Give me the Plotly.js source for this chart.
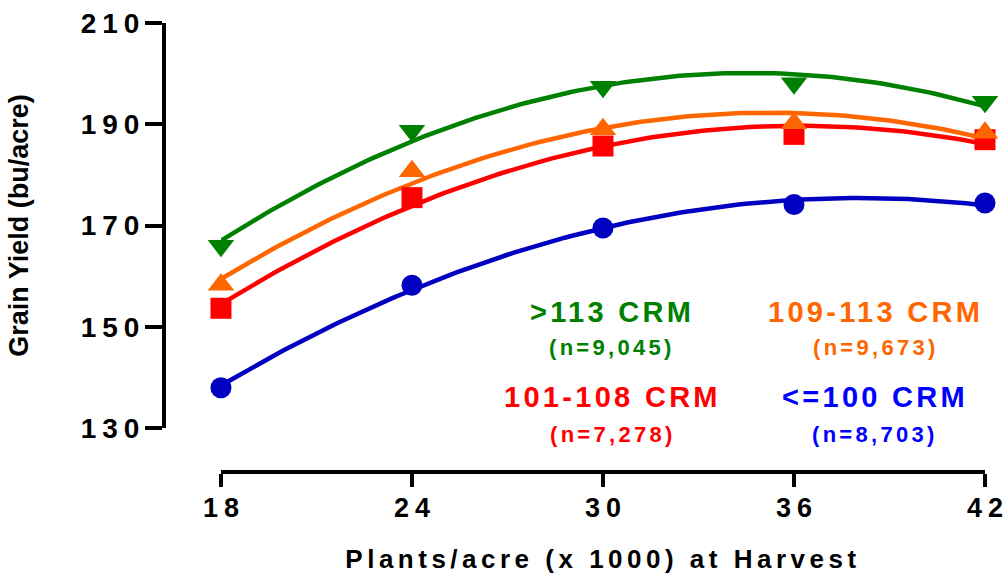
<!DOCTYPE html>
<html><head><meta charset="utf-8">
<script src="https://cdn.plot.ly/plotly-3.0.1.min.js"></script>
<style>
html,body{margin:0;padding:0;background:#fff;}
#chart{width:1008px;height:574px;}
.xtick text, .ytick text {letter-spacing:6px;}
.xtitle {letter-spacing:4.5px;}
.annotation-text {letter-spacing:3.3px;}
</style></head><body><div id="chart"></div>
<script>
// ---- data ----
const plants = [18, 24, 30, 36, 42];               // Plants/acre (x1000) at harvest
const groupNames = ['>113 CRM', '109-113 CRM', '101-108 CRM', '<=100 CRM'];
const groupN = ['(n=9,045)', '(n=9,673)', '(n=7,278)', '(n=8,703)'];
const yieldGT113    = [166.0, 188.7, 197.4, 198.1, 194.45];
const yield109to113 = [158.3, 180.7, 189.0, 190.2, 188.3];
const yield101to108 = [153.65, 175.5, 185.7, 188.0, 186.95];
const yieldLE100    = [137.95, 158.2, 169.5, 174.15, 174.45];
const yTicks = [130, 150, 170, 190, 210];
const xTicks = [18, 24, 30, 36, 42];

// ---- styling ----
const lineColors = ['#008000', '#FF6600', '#FF0000', '#0000C0'];
const textColors = ['#008000', '#FF6600', '#FF0000', '#0000FF'];
const symbols = ['triangle-down', 'triangle-up', 'square', 'circle'];
const symSizes = [23, 23, 21, 21];
const series = [yieldGT113, yield109to113, yield101to108, yieldLE100];

// quadratic least-squares fit (the reference's curves are 2nd-order fits of the means)
function quadFit(xs, ys) {
  let S = [0,0,0,0,0], T = [0,0,0];
  for (let i = 0; i < xs.length; i++) {
    let p = 1;
    for (let k = 0; k < 5; k++) { S[k] += p; if (k < 3) T[k] += p * ys[i]; p *= xs[i]; }
  }
  const A = [[S[0],S[1],S[2],T[0]],[S[1],S[2],S[3],T[1]],[S[2],S[3],S[4],T[2]]];
  for (let c = 0; c < 3; c++) {
    for (let r = c + 1; r < 3; r++) {
      const f = A[r][c] / A[c][c];
      for (let k = c; k < 4; k++) A[r][k] -= f * A[c][k];
    }
  }
  const b = [0,0,0];
  for (let r = 2; r >= 0; r--) {
    let s = A[r][3];
    for (let k = r + 1; k < 3; k++) s -= A[r][k] * b[k];
    b[r] = s / A[r][r];
  }
  return b;
}
const xMin = plants[0], xMax = plants[plants.length - 1];
const curveX = [];
for (let i = 0; i <= 120; i++) curveX.push(xMin + (xMax - xMin) * i / 120);

const order = [3, 2, 1, 0];
const traces = [];
order.forEach(g => {
  const c = quadFit(plants, series[g]);
  traces.push({
    x: curveX, y: curveX.map(x => c[0] + c[1]*x + c[2]*x*x),
    mode: 'lines', line: {color: lineColors[g], width: 4.5},
    hoverinfo: 'skip', cliponaxis: false, name: groupNames[g]
  });
});
order.forEach(g => {
  traces.push({
    x: plants, y: series[g], mode: 'markers',
    marker: {symbol: symbols[g], size: symSizes[g], color: lineColors[g], line: {width: 0}},
    cliponaxis: false, name: groupNames[g]
  });
});

// ---- layout geometry (pixels) ----
const W = 1008, H = 574, L = 164, R = 22.5, T = 23, B = 102;
const plotW = W - L - R, plotH = H - T - B;
const x18px = 221, y130px = 428;
const px2x = px => (px - L) / plotW;
const py2y = py => (H - B - py) / plotH;

const bold = {family: '"Liberation Sans", Arial, sans-serif', weight: 'bold'};
const annPos = [[612, 311.5, 347], [876, 311.5, 347], [613, 397, 434], [875, 397, 434]];
const annotations = [];
for (let g = 0; g < 4; g++) {
  annotations.push({xref: 'paper', yref: 'paper', x: px2x(annPos[g][0]), y: py2y(annPos[g][1]),
    xanchor: 'center', yanchor: 'middle', showarrow: false, text: groupNames[g].replace('<', '&lt;').replace('>', '&gt;'),
    font: Object.assign({size: 29, color: textColors[g]}, bold)});
  annotations.push({xref: 'paper', yref: 'paper', x: px2x(annPos[g][0]), y: py2y(annPos[g][2]),
    xanchor: 'center', yanchor: 'middle', showarrow: false, text: groupN[g],
    font: Object.assign({size: 22, color: textColors[g]}, bold)});
}

const layout = {
  width: W, height: H, margin: {l: L, r: R, t: T, b: B, pad: 0},
  showlegend: false, paper_bgcolor: '#fff', plot_bgcolor: '#fff',
  font: Object.assign({color: '#000', size: 20}, bold),
  xaxis: {
    domain: [px2x(x18px), 1], range: [xMin, xMax], anchor: 'free', position: 0,
    tickmode: 'array', tickvals: xTicks, ticktext: xTicks.map(String),
    ticks: 'outside', ticklen: 13, tickwidth: 4, tickcolor: '#000', ticklabeloverflow: 'allow',
    showline: true, linewidth: 4, linecolor: '#000', showgrid: false, zeroline: false,
    tickfont: Object.assign({size: 27, color: '#000'}, bold),
    title: {text: 'Plants/acre (x 1000) at Harvest', font: Object.assign({size: 26, color: '#000'}, bold), standoff: 30}
  },
  yaxis: {
    domain: [py2y(y130px), 1], range: [130, 210], anchor: 'free', position: 0,
    tickmode: 'array', tickvals: yTicks, ticktext: yTicks.map(String),
    ticks: 'outside', ticklen: 17, tickwidth: 4, tickcolor: '#000', ticklabeloverflow: 'allow',
    showline: true, linewidth: 4, linecolor: '#000', showgrid: false, zeroline: false,
    tickfont: Object.assign({size: 28, color: '#000'}, bold),
    title: {text: 'Grain Yield (bu/acre)', font: Object.assign({size: 27, color: '#000'}, bold), standoff: 37}
  },
  annotations: annotations
};

Plotly.newPlot('chart', traces, layout, {staticPlot: true, displayModeBar: false}).then(gd => {
  // compensate the trailing letter-spacing so the labels sit where the reference puts them
  gd.querySelectorAll('.ytick text').forEach(t => t.setAttribute('dx', '6'));
  gd.querySelectorAll('.xtick text').forEach(t => { t.setAttribute('dx', '3'); t.setAttribute('dy', '-2'); });
});
</script></body></html>
